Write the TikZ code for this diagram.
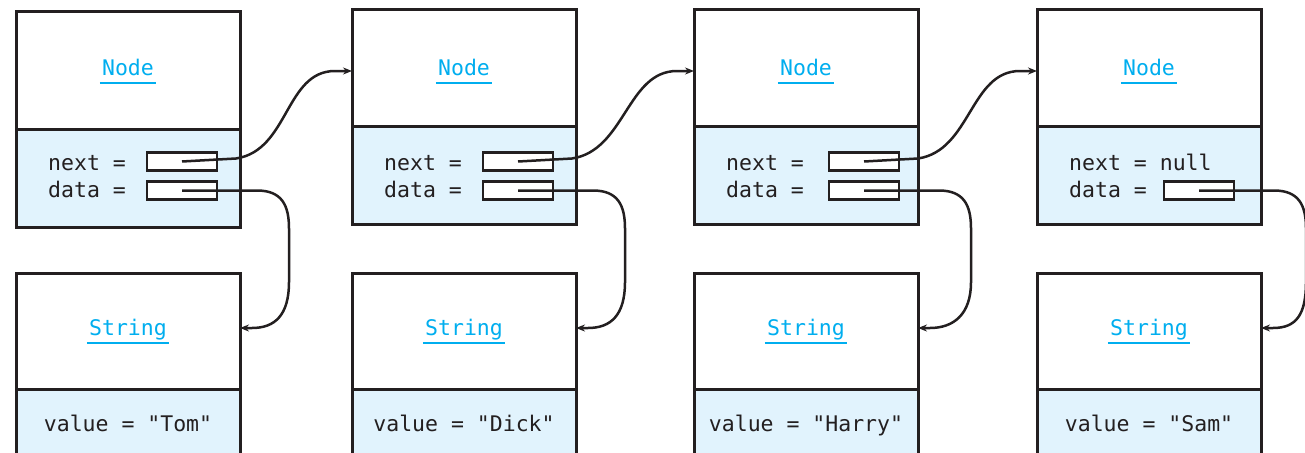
\documentclass[tikz,border=0pt]{standalone}
\usepackage{fontspec}
\setmonofont{DejaVu Sans Mono}
\usetikzlibrary{arrows.meta,calc}
\definecolor{ink}{HTML}{231F20}
\definecolor{classblue}{HTML}{00AEEF}
\definecolor{fieldfill}{HTML}{E1F3FD}
\newcommand\codefont{\ttfamily\fontsize{21.5}{24}\selectfont}
\tikzset{
  objframe/.style={draw=ink, line width=3pt, rectangle, outer sep=0pt, inner sep=0pt,
    minimum width=224pt, anchor=north west},
  headpart/.style={objframe, fill=white, minimum height=#1},
  fieldpart/.style={objframe, fill=fieldfill, minimum height=#1},
  classname/.style={text=classblue, font=\codefont, inner sep=0pt, anchor=base},
  fieldtext/.style={text=ink, font=\codefont, inner sep=0pt, anchor=base west},
  valuetext/.style={text=ink, font=\codefont, inner sep=0pt, anchor=base},
  slot/.style={draw=ink, fill=white, line width=2.5pt, rectangle, outer sep=0pt, inner sep=0pt,
    minimum width=70pt, minimum height=18pt, anchor=west},
  link/.style={draw=ink, line width=2.5pt, -{Stealth[length=9pt,width=7pt]}},
  classline/.style={draw=classblue, line width=2.5pt}
}
\begin{document}
\begin{tikzpicture}[x=1pt,y=-1pt]
\useasboundingbox (0,0) rectangle (1305,452);
\fill[white] (0,0) rectangle (1305,452);

% object pairs: a list node and the string it refers to
\foreach \i/\x/\t/\m/\b/\s/\w in {1/16/12/129/227/131/Tom, 2/352/10/126/224/131/Dick,
    3/694/10/126/224/135/Harry, 4/1037/10/126/224/127/Sam}{
  \node[headpart=\m-\t] (h\i) at (\x,\t) {};
  \node[fieldpart=\b-\m] (b\i) at (\x,\m) {};
  \node[classname] (l\i) at (\x+112,75) {Node};
  \draw[classline] ([xshift=-2pt,yshift=-8pt]l\i.base west) -- ([xshift=2pt,yshift=-8pt]l\i.base east);
  \node[fieldtext] (dt\i) at (\x+32,197) {data =};
  \node[slot] (d\i) at (\x+\s,190.5) {};
  \node[headpart=116] (s\i) at (\x,273) {};
  \node[fieldpart=100] (v\i) at (\x,389) {};
  \node[classname] (sl\i) at (\x+112,335) {String};
  \draw[classline] ([xshift=-2pt,yshift=-8pt]sl\i.base west) -- ([xshift=2pt,yshift=-8pt]sl\i.base east);
  \node[valuetext] (vt\i) at (\x+112,431) {value = "\w"};
}

% next fields
\foreach \i/\x/\s in {1/16/131, 2/352/131, 3/694/135}{
  \node[fieldtext] (nt\i) at (\x+32,170) {next =};
  \node[slot] (n\i) at (\x+\s,161.5) {};
}
\node[fieldtext] (nt4) at (1069,170) {next = null};

% next references
\foreach \i/\j in {1/2, 2/3, 3/4}{
  \coordinate (t\j) at ([yshift=-3pt]h\j.west);
  \draw[link] (n\i.center) -- ([xshift=19pt,yshift=3pt]n\i.east)
    .. controls ([xshift=72pt,yshift=11pt]n\i.east) and ([xshift=-67pt]t\j)
    .. ([xshift=-17pt]t\j) -- (t\j);
}

% data references
\foreach \i in {1,...,4}{
  \coordinate (c\i) at ([xshift=72pt]d\i.east);
  \coordinate (e\i) at ([yshift=3pt]s\i.east);
  \coordinate (cb\i) at (c\i |- e\i);
  \draw[link] (d\i.center) -- ([xshift=-32pt]c\i)
    .. controls ([xshift=-7pt]c\i) and ([yshift=-15pt]c\i) .. ([yshift=-38pt]c\i)
    -- ([yshift=46pt]cb\i)
    .. controls ([yshift=13pt]cb\i) and ([xshift=35pt]e\i) .. ([xshift=12pt]e\i) -- (e\i);
}
\end{tikzpicture}
\end{document}
